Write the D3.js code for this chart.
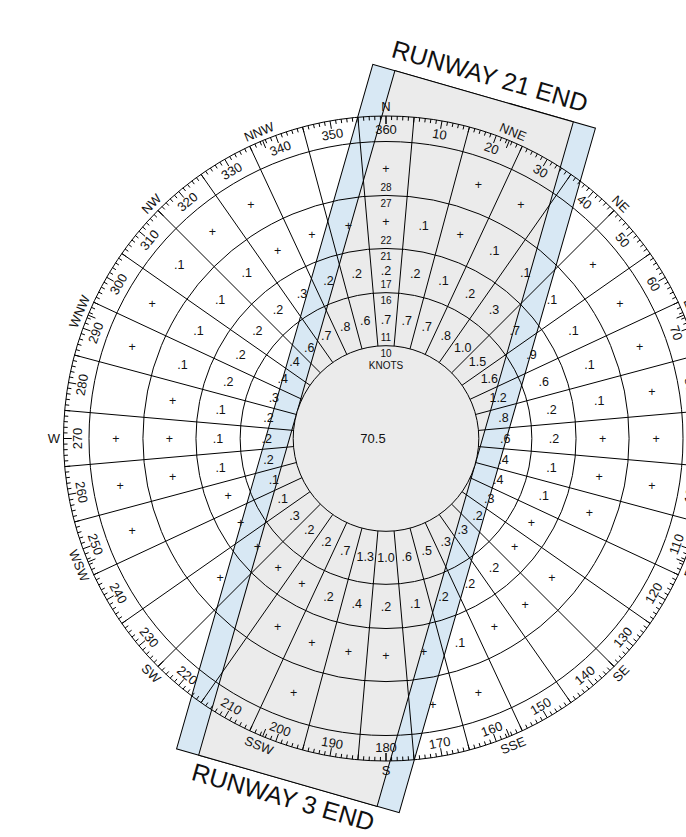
<!DOCTYPE html>
<html>
<head>
<meta charset="utf-8">
<script src="https://cdn.jsdelivr.net/npm/d3@7"></script>
<style>
  body { margin: 0; background: #fff; }
  svg { display: block; }
  text { font-family: "Liberation Sans", Arial, Helvetica, sans-serif; fill: #111; }
</style>
</head>
<body>
<svg id="chart" width="686" height="837"></svg>
<script>
// Wind directions (sector centres, degrees true) and speed bands
const directions = d3.range(10, 361, 10);
const bandEdges = [10.5, 16.5, 21.5, 27.5, 33.6];      // knots, ring boundaries
const knotLabels = [["10", "11"], ["16", "17"], ["21", "22"], ["27", "28"]];
const calmPercent = "70.5";

// Percent frequency per direction (10..360) for each speed band; "+" = trace
const band11to16 = [".7", ".7", ".8", "1.0", "1.5", "1.6", "1.2", ".8", ".6", ".4", ".4", ".3",
                    ".2", ".3", ".3", ".5", ".6", "1.0", "1.3", ".7", ".2", ".2", ".3", ".1",
                    ".1", ".2", ".2", ".2", ".3", ".4", ".4", ".6", ".7", ".8", ".6", ".7"];
const band17to21 = [".2", ".1", ".2", ".3", ".7", ".9", ".6", ".2", ".2", ".1", ".1", "+",
                    "+", ".2", ".2", ".2", ".1", ".2", ".4", ".2", "+", "+", "+", "+",
                    "+", ".1", ".1", ".1", ".2", ".2", ".2", ".2", ".3", ".2", ".2", ".2"];
const band22to27 = [".1", "+", ".1", ".1", ".1", ".1", ".1", ".1", "+", "+", "+", "",
                    "+", "+", "+", ".1", "+", "+", "+", "+", "+", "", "+", "",
                    "", "+", "+", "+", ".1", ".1", ".1", ".1", "+", "+", "+", "+"];
const band28plus = ["", "+", "+", "", "+", "+", "+", "+", "+", "+", "", "",
                    "", "", "", "+", "+", "", "", "+", "", "", "", "",
                    "+", "+", "+", "", "+", "+", ".1", "+", "+", "", "", "+"];
const bands = [band11to16, band17to21, band22to27, band28plus];

const compassPoints = ["N", "NNE", "NE", "ENE", "E", "ESE", "SE", "SSE",
                       "S", "SSW", "SW", "WSW", "W", "WNW", "NW", "NNW"];
const degreeLabels = directions.map(d => String(d));

// Runway template: heading and crosswind allowances (knots)
const runwayHeading = 16;
const crosswindLimits = [10.5, 13.1];
const runwayEnds = ["RUNWAY 21 END", "RUNWAY 3 END"];

const svg = d3.select("#chart");
const cx = 386, cy = 438.5;
const r = d3.scaleLinear().domain([0, 33.6]).range([0, 297]);
const rimOuter = r(33.6) + 25.5;
const rad = d => d * Math.PI / 180;
const px = (deg, R) => cx + R * Math.sin(rad(deg));
const py = (deg, R) => cy - R * Math.cos(rad(deg));
const upright = deg => (deg > 90 && deg < 270) ? deg - 180 : deg;

const GRAY = "#ebebeb", BLUE = "#d8e8f4";

// ---- runway template ----
const halfLen = 356;
const rw = svg.append("g").attr("transform", `translate(${cx},${cy}) rotate(${runwayHeading})`);
rw.append("rect")
  .attr("x", -r(crosswindLimits[1])).attr("y", -halfLen)
  .attr("width", 2 * r(crosswindLimits[1])).attr("height", 2 * halfLen)
  .attr("fill", BLUE).attr("stroke", "#000").attr("stroke-width", 1);
rw.append("rect")
  .attr("x", -r(crosswindLimits[0])).attr("y", -halfLen)
  .attr("width", 2 * r(crosswindLimits[0])).attr("height", 2 * halfLen)
  .attr("fill", GRAY).attr("stroke", "#000").attr("stroke-width", 1);
rw.append("text").attr("x", 0).attr("y", -halfLen - 21).attr("dy", "0.35em")
  .attr("text-anchor", "middle").attr("font-size", 25).text(runwayEnds[0]);
rw.append("text").attr("x", 0).attr("y", halfLen + 17).attr("dy", "0.35em")
  .attr("text-anchor", "middle").attr("font-size", 25).text(runwayEnds[1]);

// ---- rose grid ----
const g = svg.append("g");
g.append("circle").attr("cx", cx).attr("cy", cy).attr("r", r(bandEdges[0]))
  .attr("fill", GRAY).attr("stroke", "#000");
g.selectAll("circle.ring").data(bandEdges.slice(1)).join("circle")
  .attr("class", "ring").attr("cx", cx).attr("cy", cy).attr("r", d => r(d))
  .attr("fill", "none").attr("stroke", "#000");
g.append("circle").attr("cx", cx).attr("cy", cy).attr("r", rimOuter)
  .attr("fill", "none").attr("stroke", "#000");

// sector boundaries halfway between direction centres
g.selectAll("line.sector").data(directions).join("line")
  .attr("class", "sector")
  .attr("x1", d => px(d - 5, r(bandEdges[0]))).attr("y1", d => py(d - 5, r(bandEdges[0])))
  .attr("x2", d => px(d - 5, rimOuter)).attr("y2", d => py(d - 5, rimOuter))
  .attr("stroke", "#000").attr("stroke-width", 1);

// degree ticks on the rim
const ticks = d3.range(0, 360, 1);
const tickLen = d => d % 10 === 0 ? 8 : (d % 5 === 0 ? 5.5 : 4);
g.selectAll("line.tick").data(ticks).join("line")
  .attr("class", "tick")
  .attr("x1", d => px(d, rimOuter)).attr("y1", d => py(d, rimOuter))
  .attr("x2", d => px(d, rimOuter - tickLen(d))).attr("y2", d => py(d, rimOuter - tickLen(d)))
  .attr("stroke", "#000").attr("stroke-width", 1);
// compass point ticks
g.selectAll("line.cp").data(compassPoints).join("line")
  .attr("class", "cp")
  .attr("x1", (d, i) => px(i * 22.5, rimOuter)).attr("y1", (d, i) => py(i * 22.5, rimOuter))
  .attr("x2", (d, i) => px(i * 22.5, rimOuter - 8)).attr("y2", (d, i) => py(i * 22.5, rimOuter - 8))
  .attr("stroke", "#000").attr("stroke-width", 1);

// degree labels
const degR = 309;
g.selectAll("text.deg").data(directions).join("text")
  .attr("class", "deg")
  .attr("transform", (d) => `translate(${px(d, degR)},${py(d, degR)}) rotate(${upright(d % 360)})`)
  .attr("text-anchor", "middle").attr("dy", "0.36em").attr("font-size", 13)
  .text((d, i) => degreeLabels[i]);

// compass point labels
const cpR = 332;
g.selectAll("text.cp").data(compassPoints).join("text")
  .attr("class", "cp")
  .attr("transform", (d, i) => {
    const a = i * 22.5;
    const rot = (i % 4 === 0) ? 0 : upright(a);
    return `translate(${px(a, cpR)},${py(a, cpR)}) rotate(${rot})`;
  })
  .attr("text-anchor", "middle").attr("dy", "0.36em").attr("font-size", 13)
  .text(d => d);

// ---- values ----
const cells = [];
bands.forEach((vals, b) => {
  const mid = r((bandEdges[b] + bandEdges[b + 1]) / 2);
  vals.forEach((v, i) => { if (v) cells.push({ dir: directions[i], R: mid, v }); });
});
g.selectAll("text.val").data(cells).join("text")
  .attr("class", "val")
  .attr("x", d => px(d.dir, d.R)).attr("y", d => py(d.dir, d.R))
  .attr("text-anchor", "middle").attr("dy", "0.36em").attr("font-size", 12.5)
  .text(d => d.v);

// knot scale along the north sector
const knotText = [];
knotLabels.forEach((pair, i) => {
  const R = r(bandEdges[i]);
  knotText.push({ R: R - 8, t: pair[0] }, { R: R + 8.5, t: pair[1] });
});
knotText.push({ R: r(bandEdges[0]) - 20, t: "KNOTS" });
g.selectAll("text.knot").data(knotText).join("text")
  .attr("class", "knot")
  .attr("x", d => px(0, d.R)).attr("y", d => py(0, d.R))
  .attr("text-anchor", "middle").attr("dy", "0.36em").attr("font-size", 10)
  .text(d => d.t);

// calm percentage
g.append("text").attr("x", cx - 13).attr("y", cy).attr("dy", "0.36em")
  .attr("text-anchor", "middle").attr("font-size", 13).text(calmPercent);
</script>
</body>
</html>
